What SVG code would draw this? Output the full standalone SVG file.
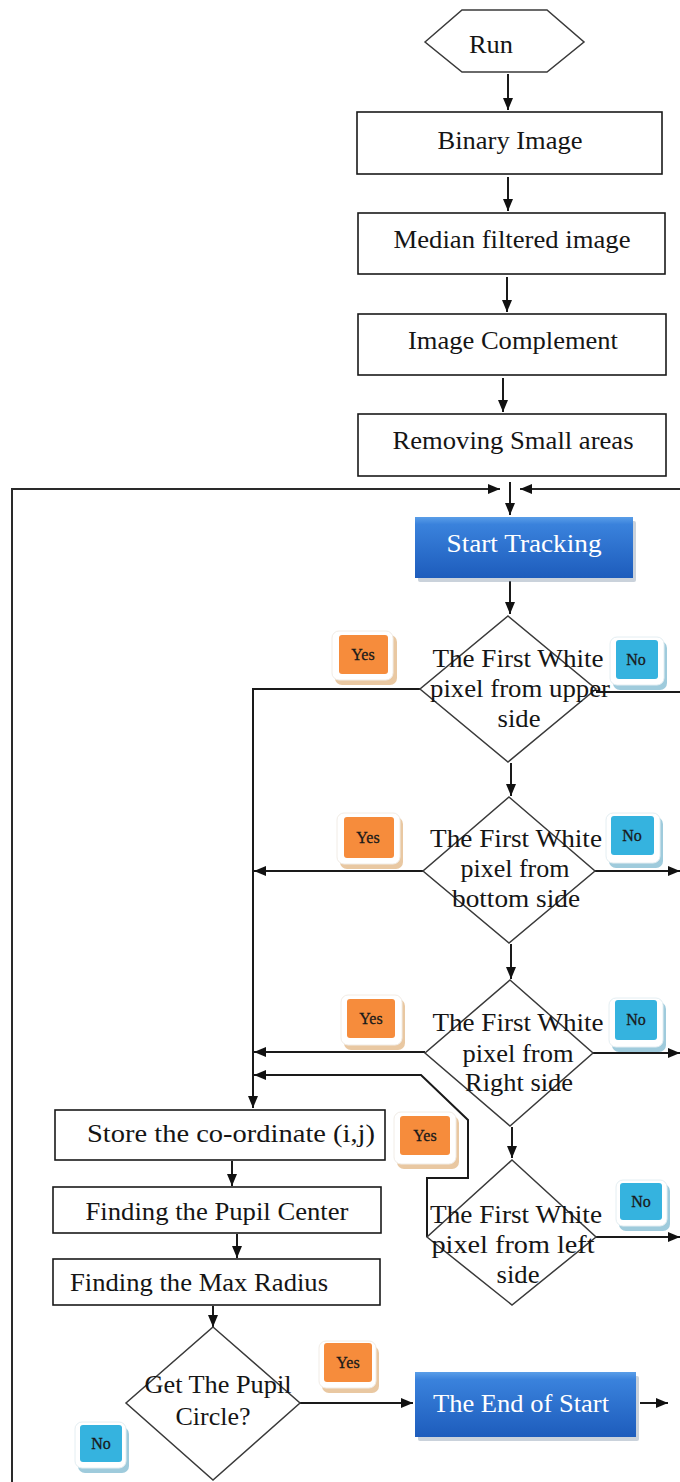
<svg xmlns="http://www.w3.org/2000/svg" width="680" height="1482" viewBox="0 0 680 1482">
<defs>
<style>
.box{fill:#fff;stroke:#1a1a1a;stroke-width:1.6}
.dia{fill:#fff;stroke:#3a3a3a;stroke-width:1.5}
.t{font-family:'Liberation Serif','DejaVu Serif',serif;font-size:25px;fill:#151515;text-anchor:middle}
.tw{font-family:'Liberation Serif','DejaVu Serif',serif;font-size:25px;fill:#fff;text-anchor:middle}
.bt{font-family:'Liberation Serif','DejaVu Serif',serif;font-size:16px;fill:#1a1a1a;text-anchor:middle;stroke:#1a1a1a;stroke-width:0.3}
.ln{fill:none;stroke:#1a1a1a;stroke-width:2}
.lg{fill:none;stroke:#2a2a2a;stroke-width:2}
.ob{fill:#fff;stroke:#f1ece6;stroke-width:1}
.bb{fill:#fff;stroke:#e4eef2;stroke-width:1}
.osh{fill:#e9c8a2}
.bsh{fill:#9fcbdc}
.oi{fill:#f68c3c}
.bi{fill:#35b3df}
.bsd{fill:#8a9bb0;opacity:0.45}
</style>
<linearGradient id="blue" x1="0" y1="0" x2="0" y2="1">
<stop offset="0" stop-color="#5a9ee8"/>
<stop offset="0.12" stop-color="#3a82dc"/>
<stop offset="1" stop-color="#1d5cbc"/>
</linearGradient>
<marker id="ah" markerUnits="userSpaceOnUse" markerWidth="12" markerHeight="10" refX="12" refY="5" orient="auto">
<path d="M0,0 L12,5 L0,10 z" fill="#111"/>
</marker>
</defs>

<g id="connectors">
<line class="ln" x1="508" y1="74" x2="508" y2="110" marker-end="url(#ah)"/>
<line class="ln" x1="508" y1="177" x2="508" y2="211" marker-end="url(#ah)"/>
<line class="ln" x1="507" y1="277" x2="507" y2="312" marker-end="url(#ah)"/>
<line class="ln" x1="503" y1="378" x2="503" y2="412" marker-end="url(#ah)"/>
<line class="ln" x1="510" y1="482" x2="510" y2="515" marker-end="url(#ah)"/>
<polyline class="lg" points="12,1482 12,489 500,489" marker-end="url(#ah)"/>
<line class="lg" x1="680" y1="489" x2="520" y2="489" marker-end="url(#ah)"/>
<line class="ln" x1="510" y1="581" x2="510" y2="614" marker-end="url(#ah)"/>
<polyline class="ln" points="420,689 253,689 253,1108" marker-end="url(#ah)"/>
<line class="ln" x1="596" y1="692" x2="680" y2="692"/>
<line class="ln" x1="511" y1="763" x2="511" y2="796" marker-end="url(#ah)"/>
<line class="ln" x1="423" y1="871" x2="254" y2="871" marker-end="url(#ah)"/>
<line class="ln" x1="595" y1="871" x2="680" y2="871" marker-end="url(#ah)"/>
<line class="ln" x1="511" y1="944" x2="511" y2="979" marker-end="url(#ah)"/>
<line class="ln" x1="425" y1="1052" x2="254" y2="1052" marker-end="url(#ah)"/>
<line class="ln" x1="593" y1="1053" x2="680" y2="1053" marker-end="url(#ah)"/>
<line class="ln" x1="512" y1="1127" x2="512" y2="1158" marker-end="url(#ah)"/>
<polyline class="ln" points="427,1237 427,1178 468,1178 468,1120 421,1075 254,1075" marker-end="url(#ah)"/>
<line class="ln" x1="596" y1="1237" x2="680" y2="1237" marker-end="url(#ah)"/>
<line class="ln" x1="232" y1="1161" x2="232" y2="1186" marker-end="url(#ah)"/>
<line class="ln" x1="237" y1="1234" x2="237" y2="1258" marker-end="url(#ah)"/>
<line class="ln" x1="213" y1="1306" x2="213" y2="1327" marker-end="url(#ah)"/>
<line class="ln" x1="300" y1="1403" x2="413" y2="1403" marker-end="url(#ah)"/>
<line class="ln" x1="640" y1="1403" x2="668" y2="1403" marker-end="url(#ah)"/>
</g>

<g id="run">
<polygon class="dia" points="425,42 462,10 547,10 584,42 547,72 462,72"/>
<text class="t" x="491" y="53" textLength="44" lengthAdjust="spacingAndGlyphs">Run</text>
</g>
<g id="binary">
<rect class="box" x="357" y="112" width="305" height="62"/>
<text class="t" x="510" y="149" textLength="145" lengthAdjust="spacingAndGlyphs">Binary Image</text>
</g>
<g id="median">
<rect class="box" x="358" y="213" width="307" height="61"/>
<text class="t" x="512" y="248" textLength="237" lengthAdjust="spacingAndGlyphs">Median filtered image</text>
</g>
<g id="complement">
<rect class="box" x="358" y="314" width="308" height="61"/>
<text class="t" x="513" y="349" textLength="210" lengthAdjust="spacingAndGlyphs">Image Complement</text>
</g>
<g id="removing">
<rect class="box" x="358" y="414" width="308" height="62"/>
<text class="t" x="513" y="449" textLength="241" lengthAdjust="spacingAndGlyphs">Removing Small areas</text>
</g>
<g id="start">
<rect class="bsd" x="418" y="521" width="218" height="61" rx="2"/>
<rect x="415" y="517" width="218" height="61" fill="url(#blue)"/>
<text class="tw" x="524" y="552" textLength="155" lengthAdjust="spacingAndGlyphs">Start Tracking</text>
</g>

<g id="d1">
<polygon class="dia" points="508,616 596,689 508,762 420,689"/>
<text class="t" x="518" y="667" textLength="171" lengthAdjust="spacingAndGlyphs">The First White</text>
<text class="t" x="520" y="697" textLength="180" lengthAdjust="spacingAndGlyphs">pixel from upper</text>
<text class="t" x="519" y="727" textLength="43" lengthAdjust="spacingAndGlyphs">side</text>
</g>
<g id="d2">
<polygon class="dia" points="509,797 595,871 509,943 423,871"/>
<text class="t" x="516" y="847" textLength="172" lengthAdjust="spacingAndGlyphs">The First White</text>
<text class="t" x="515" y="877" textLength="109" lengthAdjust="spacingAndGlyphs">pixel from</text>
<text class="t" x="516" y="907" textLength="128" lengthAdjust="spacingAndGlyphs">bottom side</text>
</g>
<g id="d3">
<polygon class="dia" points="510,980 593,1053 510,1126 425,1053"/>
<text class="t" x="518" y="1031" textLength="171" lengthAdjust="spacingAndGlyphs">The First White</text>
<text class="t" x="518" y="1062" textLength="111" lengthAdjust="spacingAndGlyphs">pixel from</text>
<text class="t" x="519" y="1091" textLength="108" lengthAdjust="spacingAndGlyphs">Right side</text>
</g>
<g id="d4">
<polygon class="dia" points="512,1160 596,1237 512,1305 427,1237"/>
<text class="t" x="516" y="1223" textLength="172" lengthAdjust="spacingAndGlyphs">The First White</text>
<text class="t" x="513" y="1253" textLength="163" lengthAdjust="spacingAndGlyphs">pixel from left</text>
<text class="t" x="518" y="1283" textLength="43" lengthAdjust="spacingAndGlyphs">side</text>
</g>

<g id="store">
<rect class="box" x="55" y="1110" width="330" height="50"/>
<text class="t" x="231" y="1142" textLength="288" lengthAdjust="spacingAndGlyphs">Store the co-ordinate (i,j)</text>
</g>
<g id="center">
<rect class="box" x="53" y="1187" width="328" height="46"/>
<text class="t" x="217" y="1220" textLength="263" lengthAdjust="spacingAndGlyphs">Finding the Pupil Center</text>
</g>
<g id="radius">
<rect class="box" x="53" y="1259" width="327" height="46"/>
<text class="t" x="199" y="1291" textLength="258" lengthAdjust="spacingAndGlyphs">Finding the Max Radius</text>
</g>
<g id="d5">
<polygon class="dia" points="213,1327 300,1403 213,1480 126,1403"/>
<text class="t" x="218" y="1393" textLength="147" lengthAdjust="spacingAndGlyphs">Get The Pupil</text>
<text class="t" x="213" y="1425" textLength="75" lengthAdjust="spacingAndGlyphs">Circle?</text>
</g>
<g id="end">
<rect class="bsd" x="418" y="1376" width="221" height="65" rx="2"/>
<rect x="415" y="1372" width="221" height="65" fill="url(#blue)"/>
<text class="tw" x="521" y="1412" textLength="176" lengthAdjust="spacingAndGlyphs">The End of Start</text>
</g>

<g id="yes1">
<rect class="osh" x="335" y="635" width="62" height="50" rx="7"/>
<rect class="ob" x="332" y="631" width="61" height="49" rx="7"/>
<rect class="oi" x="339" y="635" width="49" height="39" rx="3"/>
<text class="bt" x="363" y="660">Yes</text>
</g>
<g id="no1">
<rect class="bsh" x="613" y="641" width="54" height="49" rx="7"/>
<rect class="bb" x="610" y="637" width="54" height="48" rx="7"/>
<rect class="bi" x="616" y="640" width="42" height="39" rx="3"/>
<text class="bt" x="636" y="665">No</text>
</g>
<g id="yes2">
<rect class="osh" x="340" y="817" width="63" height="52" rx="7"/>
<rect class="ob" x="337" y="813" width="63" height="51" rx="7"/>
<rect class="oi" x="344" y="817" width="50" height="41" rx="3"/>
<text class="bt" x="368" y="843">Yes</text>
</g>
<g id="no2">
<rect class="bsh" x="609" y="817" width="54" height="51" rx="7"/>
<rect class="bb" x="606" y="813" width="54" height="50" rx="7"/>
<rect class="bi" x="611" y="816" width="43" height="39" rx="3"/>
<text class="bt" x="632" y="841">No</text>
</g>
<g id="yes3">
<rect class="osh" x="344" y="999" width="61" height="51" rx="7"/>
<rect class="ob" x="341" y="995" width="61" height="50" rx="7"/>
<rect class="oi" x="347" y="999" width="48" height="39" rx="3"/>
<text class="bt" x="371" y="1024">Yes</text>
</g>
<g id="no3">
<rect class="bsh" x="612" y="1002" width="54" height="50" rx="7"/>
<rect class="bb" x="609" y="998" width="54" height="49" rx="7"/>
<rect class="bi" x="615" y="1000" width="42" height="40" rx="3"/>
<text class="bt" x="636" y="1025">No</text>
</g>
<g id="yes4">
<rect class="osh" x="397" y="1116" width="62" height="53" rx="7"/>
<rect class="ob" x="394" y="1112" width="62" height="52" rx="7"/>
<rect class="oi" x="400" y="1116" width="50" height="39" rx="3"/>
<text class="bt" x="425" y="1141">Yes</text>
</g>
<g id="no4">
<rect class="bsh" x="619" y="1184" width="51" height="47" rx="7"/>
<rect class="bb" x="616" y="1180" width="51" height="46" rx="7"/>
<rect class="bi" x="620" y="1183" width="42" height="37" rx="3"/>
<text class="bt" x="641" y="1207">No</text>
</g>
<g id="yes5">
<rect class="osh" x="322" y="1346" width="57" height="47" rx="7"/>
<rect class="ob" x="319" y="1341" width="57" height="47" rx="7"/>
<rect class="oi" x="324" y="1343" width="48" height="39" rx="3"/>
<text class="bt" x="348" y="1368">Yes</text>
</g>
<g id="no5">
<rect class="bsh" x="78" y="1427" width="51" height="46" rx="7"/>
<rect class="bb" x="75" y="1422" width="51" height="46" rx="7"/>
<rect class="bi" x="80" y="1425" width="42" height="37" rx="3"/>
<text class="bt" x="101" y="1449">No</text>
</g>
</svg>
